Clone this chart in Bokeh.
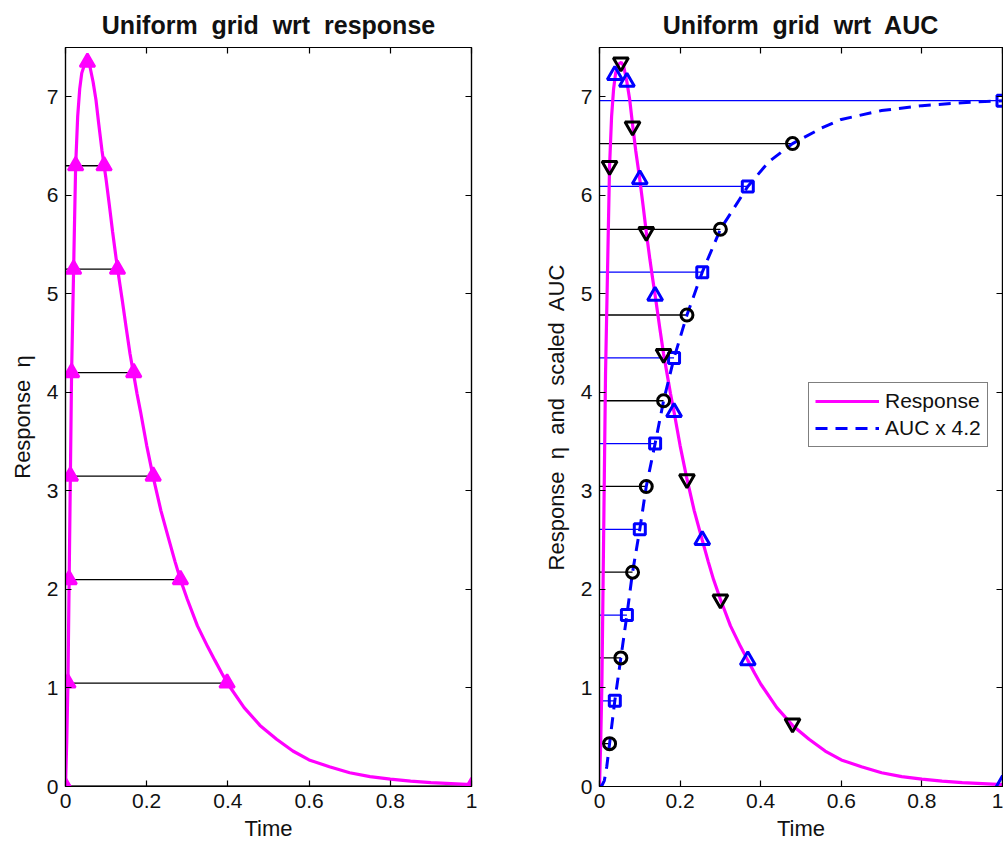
from bokeh.plotting import figure
from bokeh.layouts import row
from bokeh.models import LinearAxis, Range1d, Legend, LegendItem, FixedTicker
from bokeh.embed import file_html
from bokeh.resources import INLINE

# ---- response curve (time, response) ----
resp_t = [0, 0.003, 0.006, 0.009, 0.012, 0.015, 0.02, 0.025, 0.03, 0.035, 0.04, 0.047,
          0.054, 0.06, 0.068, 0.075, 0.082, 0.09, 0.1, 0.108, 0.116, 0.125, 0.132, 0.14,
          0.15, 0.159, 0.168, 0.176, 0.185, 0.2, 0.216, 0.235, 0.255, 0.27, 0.283, 0.3,
          0.325, 0.35, 0.368, 0.385, 0.4, 0.44, 0.479, 0.52, 0.56, 0.6, 0.65, 0.7, 0.75,
          0.8, 0.85, 0.9, 0.95, 1.0]
resp_y = [0, 0.45, 1.05, 2.1, 3.15, 4.2, 5.25, 6.3, 6.8, 7.08, 7.24, 7.33,
          7.35, 7.31, 7.15, 6.97, 6.72, 6.45, 6.16, 5.9, 5.63, 5.35, 5.15, 4.93,
          4.64, 4.39, 4.18, 3.99, 3.8, 3.46, 3.14, 2.8, 2.5, 2.28, 2.1, 1.9,
          1.63, 1.42, 1.28, 1.15, 1.04, 0.8, 0.62, 0.48, 0.36, 0.27, 0.2, 0.14, 0.1,
          0.075, 0.055, 0.04, 0.03, 0.02]

# ---- uniform grid in response ----
resp_levels = [0, 1.05, 2.1, 3.15, 4.2, 5.25, 6.3]
rise_t = [0, 0.006, 0.009, 0.012, 0.015, 0.02, 0.025]
fall_t = [1.0, 0.398, 0.283, 0.216, 0.168, 0.128, 0.095]
peak_t = [0.054]
peak_y = [7.35]

# ---- area under the curve, scaled by 4.2 ----
auc_t = [0, 0.006, 0.012, 0.018, 0.025, 0.038, 0.053, 0.068, 0.082, 0.1, 0.116, 0.138,
         0.159, 0.185, 0.217, 0.255, 0.3, 0.368, 0.42, 0.479, 0.55, 0.6, 0.7, 0.8, 0.9, 1.0]
auc_y = [0, 0.01, 0.06, 0.2, 0.435, 0.87, 1.305, 1.74, 2.175, 2.61, 3.045, 3.48,
         3.915, 4.35, 4.785, 5.22, 5.655, 6.09, 6.34, 6.525, 6.68, 6.77, 6.86, 6.91, 6.94, 6.96]

# ---- uniform grid in AUC ----
auc_levels = [0.435, 0.87, 1.305, 1.74, 2.175, 2.61, 3.045, 3.48,
              3.915, 4.35, 4.785, 5.22, 5.655, 6.09, 6.525, 6.96]
level_t = [0.025, 0.038, 0.053, 0.068, 0.082, 0.1, 0.116, 0.138,
           0.159, 0.185, 0.217, 0.255, 0.3, 0.368, 0.479, 1.0]
level_resp = [6.3, 7.22, 7.35, 7.15, 6.7, 6.16, 5.63, 4.98,
              4.39, 3.8, 3.12, 2.5, 1.9, 1.28, 0.64, 0.02]

x_ticks = [0, 0.2, 0.4, 0.6, 0.8, 1]
x_tick_labels = {0: "0", 0.2: "0.2", 0.4: "0.4", 0.6: "0.6", 0.8: "0.8", 1: "1"}
y_ticks = [0, 1, 2, 3, 4, 5, 6, 7]

MAGENTA = "#FF00FF"
BLUE = "#0000FF"
FONT = "Liberation Sans"
SP = "\u00a0 "  # wide word gap that survives SVG whitespace collapsing


def make_axes(p, ylabel):
    p.grid.visible = False
    p.outline_line_color = "black"
    p.outline_line_width = 1.2
    p.background_fill_color = "white"
    p.border_fill_color = "white"
    top = LinearAxis()
    side = LinearAxis()
    p.add_layout(top, "above")
    p.add_layout(side, "right")
    bottom, left = p.below[0], p.left[0]
    for ax in (bottom, top):
        ax.ticker = FixedTicker(ticks=x_ticks)
        ax.major_label_overrides = x_tick_labels
    for ax in (left, side):
        ax.ticker = FixedTicker(ticks=y_ticks)
    for ax in (bottom, top, left, side):
        ax.major_tick_in = 6
        ax.major_tick_out = 0
        ax.minor_tick_line_color = None
        ax.axis_line_color = "black"
        ax.axis_line_width = 1.2
        ax.major_tick_line_color = "black"
        ax.major_tick_line_width = 1.2
        ax.major_label_text_font = FONT
        ax.major_label_text_font_size = "21px"
        ax.major_label_text_color = "#111111"
        ax.major_label_standoff = 7
        ax.axis_label_text_font = FONT
        ax.axis_label_text_font_size = "22px"
        ax.axis_label_text_font_style = "normal"
        ax.axis_label_text_color = "#111111"
    # mirrored axes carry tick marks only
    for ax in (top, side):
        ax.major_label_text_color = None
        ax.major_label_text_font_size = "2px"
        ax.major_label_standoff = 0
    bottom.axis_label = "Time"
    bottom.axis_label_standoff = 5
    left.axis_label = ylabel
    left.axis_label_standoff = 9
    p.title.text_font = FONT
    p.title.text_font_size = "25px"
    p.title.text_font_style = "bold"
    p.title.text_color = "#111111"
    p.title.align = "center"
    p.title.standoff = 17


# ---------------- left panel ----------------
p1 = figure(width=501, height=843, x_range=Range1d(0, 1), y_range=Range1d(0, 7.5),
            output_backend="svg", toolbar_location=None,
            title=SP.join(["Uniform", "grid", "wrt", "response"]),
            min_border_left=65, min_border_right=30, min_border_top=47, min_border_bottom=57)
make_axes(p1, SP.join(["Response", "η"]))

p1.segment(x0=[0] * len(resp_levels), y0=resp_levels, x1=fall_t, y1=resp_levels,
           line_color="black", line_width=1.3)
p1.segment(x0=[0], y0=[0], x1=[1], y1=[0], line_color="black", line_width=2.2)
p1.line(resp_t, resp_y, line_color=MAGENTA, line_width=3.2)
p1.scatter(rise_t + peak_t + fall_t, resp_levels + peak_y + resp_levels,
           marker="triangle", size=15, fill_color=MAGENTA, line_color=MAGENTA, line_width=2.5)

# ---------------- right panel ----------------
p2 = figure(width=502, height=843, x_range=Range1d(0, 1), y_range=Range1d(0, 7.5),
            output_backend="svg", toolbar_location=None,
            title=SP.join(["Uniform", "grid", "wrt", "AUC"]),
            min_border_left=98, min_border_right=1, min_border_top=47, min_border_bottom=57)
make_axes(p2, SP.join(["Response", "η", "and", "scaled", "AUC"]))

odd_t, even_t = level_t[0::2], level_t[1::2]
odd_auc, even_auc = auc_levels[0::2], auc_levels[1::2]
odd_resp, even_resp = level_resp[0::2], level_resp[1::2]

p2.segment(x0=[0] * len(odd_t), y0=odd_auc, x1=odd_t, y1=odd_auc,
           line_color="black", line_width=1.3)
p2.segment(x0=[0] * len(even_t), y0=even_auc, x1=even_t, y1=even_auc,
           line_color=BLUE, line_width=1.3)
r_resp = p2.line(resp_t, resp_y, line_color=MAGENTA, line_width=3.2)
r_auc = p2.line(auc_t, auc_y, line_color=BLUE, line_width=3, line_dash="12 8")

p2.scatter(odd_t, odd_auc, marker="circle", size=12, fill_color=None,
           line_color="black", line_width=3)
p2.scatter(even_t, even_auc, marker="square", size=11, fill_color=None,
           line_color=BLUE, line_width=3)
p2.scatter(odd_t, odd_resp, marker="inverted_triangle", size=15, fill_color=None,
           line_color="black", line_width=3)
p2.scatter(even_t, even_resp, marker="triangle", size=15, fill_color=None,
           line_color=BLUE, line_width=3)

legend = Legend(items=[LegendItem(label="Response", renderers=[r_resp]),
                       LegendItem(label="AUC x 4.2", renderers=[r_auc])],
                location=(209, 339))
legend.border_line_color = "black"
legend.border_line_width = 1.2
legend.background_fill_color = "white"
legend.background_fill_alpha = 1
legend.label_text_font = FONT
legend.label_text_font_size = "21px"
legend.label_text_color = "#111111"
legend.glyph_width = 64
legend.glyph_height = 20
legend.label_standoff = 6
legend.padding = 6
legend.spacing = 3
legend.margin = 0
p2.add_layout(legend)

layout = row(p1, p2)
open("out.html", "w").write(file_html(layout, INLINE))
